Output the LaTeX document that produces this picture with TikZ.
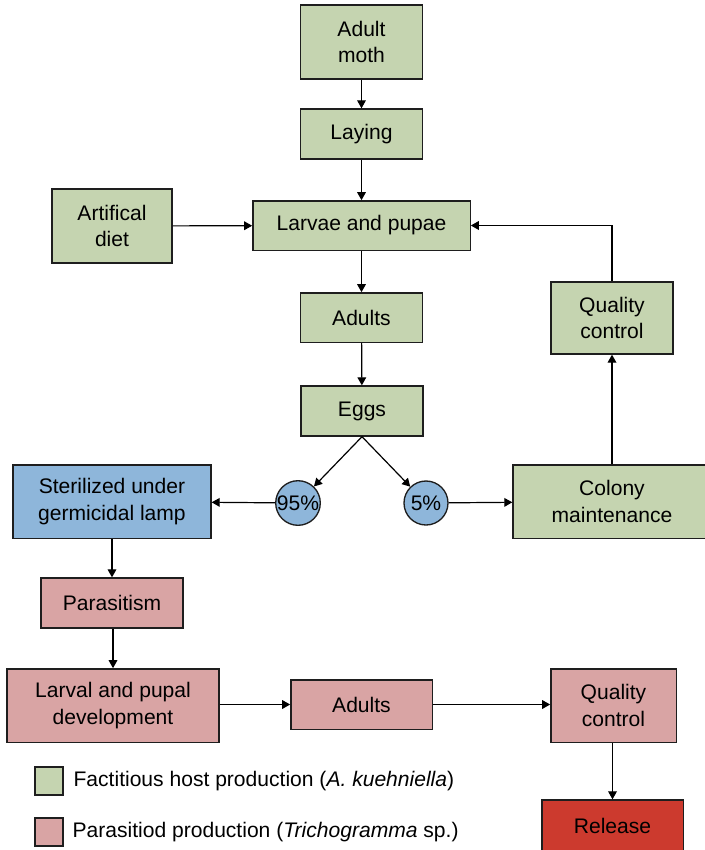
\documentclass[tikz,border=0pt]{standalone}
\usepackage{fontspec}
\setmainfont{Liberation Sans}
\usetikzlibrary{arrows.meta}

\definecolor{hostgreen}{RGB}{197,212,176}
\definecolor{parapink}{RGB}{217,164,164}
\definecolor{lampblue}{RGB}{142,182,218}
\definecolor{releasered}{RGB}{204,58,46}

\tikzset{every picture/.style={line width=0.9pt}}
\tikzset{
  box/.style={draw={rgb,255:red,30;green,30;blue,30}, line width=1pt, align=center, inner sep=0pt,
    font=\fontsize{15.8}{20}\selectfont},
  hostbox/.style={box, fill=hostgreen},
  parabox/.style={box, fill=parapink},
  lampbox/.style={box, fill=lampblue},
  relbox/.style={box, fill=releasered},
  pct/.style={box, circle, fill=lampblue, minimum size=33pt},
  flow/.style={-{Triangle[length=6pt,width=6.5pt]}},
}

\begin{document}
\begin{tikzpicture}[x=0.75pt,y=0.75pt,yscale=-1,xscale=1]
	\useasboundingbox (0,0) rectangle (704,850);

	% Factitious host boxes
	\node [hostbox, minimum width=91.5pt, minimum height=55.5pt] (moth) at (361.5,42) {Adult\\moth};
	\node [hostbox, minimum width=91.5pt, minimum height=37.5pt] (laying) at (361.5,134) {Laying};
	\node [hostbox, minimum width=90pt, minimum height=55.5pt] (diet) at (112,226) {Artifical\\diet};
	\node [hostbox, minimum width=163pt, minimum height=37pt] (larvae) at (361.5,225.5) {Larvae and pupae};
	\node [hostbox, minimum width=91.5pt, minimum height=37pt] (adults) at (361.5,317.5) {Adults};
	\node [hostbox, minimum width=91.5pt, minimum height=54pt] (qchost) at (612,318) {Quality\\control};
	\node [hostbox, minimum width=91.5pt, minimum height=37.5pt] (eggs) at (362,411) {Eggs};
	\node [hostbox, minimum width=148.5pt, minimum height=55pt] (colony) at (612,501.5) {Colony\\maintenance};

	% Split of the eggs
	\node [pct] (p95) at (298,503) {95\%};
	\node [pct] (p5) at (426,503) {5\%};
	\node [lampbox, minimum width=148.5pt, minimum height=55pt] (lamp) at (112,501.5) {Sterilized under\\germicidal lamp};

	% Parasitoid boxes
	\node [parabox, minimum width=106.5pt, minimum height=37.5pt] (parasitism) at (112,603) {Parasitism};
	\node [parabox, minimum width=159pt, minimum height=55pt] (devel) at (113,705.5) {Larval and pupal\\development};
	\node [parabox, minimum width=106pt, minimum height=37pt] (adultspara) at (361.5,704.5) {Adults};
	\node [parabox, minimum width=94pt, minimum height=55pt] (qcpara) at (613.5,705.5) {Quality\\control};
	\node [relbox, minimum width=106pt, minimum height=39pt] (release) at (612.5,826) {Release};

	% Connectors
	\draw [flow] (moth) -- (laying);
	\draw [flow] (laying) -- (larvae);
	\draw [flow] (diet) -- (larvae);
	\draw [flow] (qchost.north) |- (larvae.east);
	\draw [flow] (larvae) -- (adults);
	\draw [flow] (adults) -- (eggs);
	\draw [flow] (eggs.south) -- (p95);
	\draw [flow] (eggs.south) -- (p5);
	\draw [flow] (p95) -- (lamp);
	\draw [flow] (p5) -- (colony);
	\draw [flow] (colony.north -| qchost) -- (qchost);
	\draw [flow] (lamp) -- (parasitism);
	\draw [flow] (parasitism.south -| devel) -- (devel);
	\draw [flow] (devel.east |- adultspara) -- (adultspara);
	\draw [flow] (adultspara) -- (qcpara.west |- adultspara);
	\draw [flow] (qcpara.south -| release) -- (release);

	% Legend
	\node [hostbox, minimum size=21pt] (keyhost) at (49,781) {};
	\node [parabox, minimum size=21pt] (keypara) at (49,832) {};
	\node [anchor=west, font=\fontsize{15.8}{20}\selectfont, inner sep=0pt] (keyhosttext) at (73,781) {Factitious host production (\textit{A. kuehniella})};
	\node [anchor=west, font=\fontsize{15.8}{20}\selectfont, inner sep=0pt] (keyparatext) at (72,832) {Parasitiod production (\textit{Trichogramma} sp.)};

\end{tikzpicture}
\end{document}
